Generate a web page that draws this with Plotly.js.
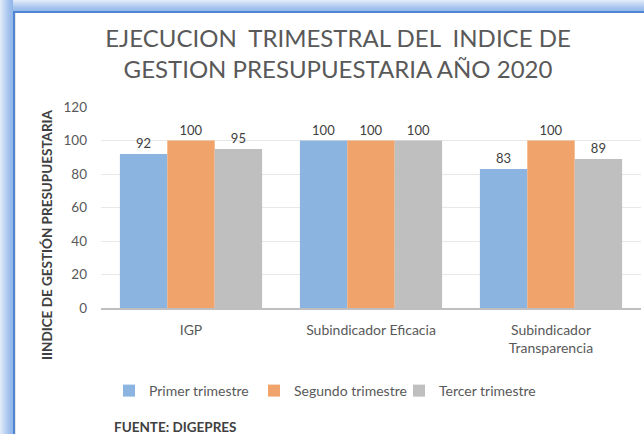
<!DOCTYPE html>
<html>
<head>
<meta charset="utf-8">
<script src="https://cdn.plot.ly/plotly-3.0.1.min.js"></script>
<style>
html,body{margin:0;padding:0;width:644px;height:434px;overflow:hidden;background:#fff;}
#chart{position:absolute;left:0;top:0;width:644px;height:434px;}
.fr{position:absolute;pointer-events:none;z-index:10;}
</style>
</head>
<body>
<div id="chart"></div>
<div class="fr" style="left:0;top:0;width:644px;height:12px;background:linear-gradient(to bottom,#e3edf9,#a9c6ee 60%,#8fb5ea);"></div>
<div class="fr" style="left:0;top:0;width:13px;height:434px;background:linear-gradient(to right,#e3edf9,#a9c6ee 60%,#8fb5ea);"></div>
<div class="fr" style="left:13px;top:11px;width:631px;height:2px;background:#4f86d2;"></div>
<div class="fr" style="left:13px;top:11px;width:2px;height:423px;background:#4f86d2;"></div>
<div class="fr" style="left:15px;top:13px;width:1px;height:421px;background:#e6e6e6;"></div>
<script>
var categories = ["IGP", "Subindicador Eficacia", "Subindicador<br>Transparencia"];
var seriesNames = ["Primer trimestre", "Segundo trimestre", "Tercer trimestre"];
var primer = [92, 100, 83];
var segundo = [100, 100, 100];
var tercer = [95, 100, 89];
var yTicks = [0, 20, 40, 60, 80, 100, 120];

var colors = ["#8bb5e0", "#f0a36b", "#bfbfbf"];
var F = "Lato, 'Open Sans', sans-serif";
var vals = [primer, segundo, tercer];
var traces = vals.map(function(v, i){
  return {
    type: "bar", x: categories, y: v, name: seriesNames[i],
    marker: {color: colors[i], line: {width: 0}},
    text: v.map(String), textposition: "outside", cliponaxis: false,
    textfont: {family: F, size: 13, color: "#404040"},
    hoverinfo: "none"
  };
});
var layout = {
  width: 644, height: 434,
  paper_bgcolor: "#fff", plot_bgcolor: "#fff",
  margin: {l: 101, r: 3, t: 107, b: 126},
  barmode: "group", bargap: 0.21, bargroupgap: 0,
  font: {family: F, color: "#595959"},
  title: {text: "EJECUCION  TRIMESTRAL DEL  INDICE DE<br>GESTION PRESUPUESTARIA AÑO 2020",
          font: {family: F, size: 24, color: "#595959"},
          x: 338/644, xanchor: "center", xref: "container", y: 1 - 47/434, yanchor: "middle"},
  xaxis: {showline: true, linecolor: "#bfbfbf", linewidth: 2, ticks: "",
          tickfont: {family: F, size: 14, color: "#595959"}, ticklabelstandoff: 8, fixedrange: true},
  yaxis: {range: [0, 120], tickvals: yTicks, showgrid: true, gridcolor: "#e8e8e8",
          gridwidth: 1, zeroline: false, showline: false, ticks: "",
          tickfont: {family: F, size: 13.5, color: "#595959"}, ticklabelstandoff: 13, fixedrange: true},
  showlegend: true,
  legend: {orientation: "h", xref: "container", yref: "container", x: 109/644, xanchor: "left",
           y: 1 - 391/434, yanchor: "middle", font: {family: F, size: 14, color: "#595959"},
           itemwidth: 30, entrywidth: 100, traceorder: "normal"},
  annotations: [
    {text: "IINDICE DE GESTIÓN PRESUPUESTARIA", textangle: -90, xref: "paper", yref: "paper",
     x: (47 - 101) / 540, y: (434 - 126 - 235) / 201, xanchor: "center", yanchor: "middle",
     showarrow: false, font: {family: F, size: 13.5, color: "#404040", weight: "bold"}},
    {text: "<b>FUENTE: DIGEPRES</b>", xref: "paper", yref: "paper",
     x: (112 - 101) / 540, y: (434 - 126 - 427) / 201, xanchor: "left", yanchor: "middle",
     showarrow: false, font: {family: F, size: 13.5, color: "#404040"}}
  ]
};
Plotly.newPlot("chart", traces, layout, {displayModeBar: false, staticPlot: true});
</script>
</body>
</html>
